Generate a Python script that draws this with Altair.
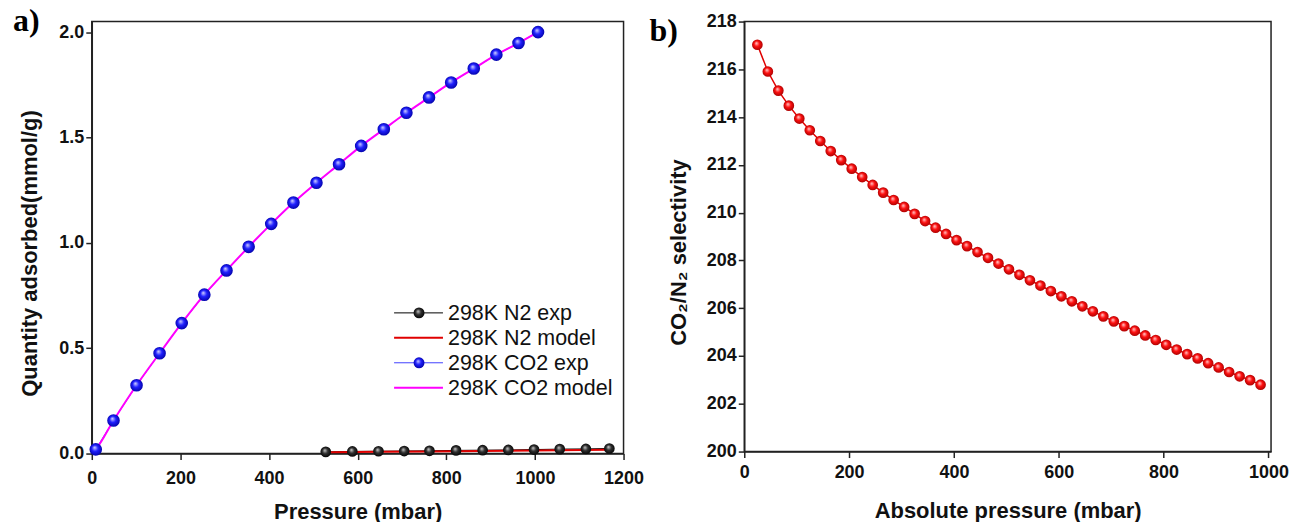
import altair as alt
import pandas as pd

# ---- panel a) data ----
co2_p = [9, 49, 101, 153, 203, 254, 304, 354, 405, 455, 507, 558, 608, 659, 710, 761, 811, 862, 913, 963, 1007]
co2_q = [0.020, 0.157, 0.324, 0.476, 0.619, 0.754, 0.869, 0.981, 1.090, 1.191, 1.285, 1.373,
         1.460, 1.539, 1.617, 1.690, 1.761, 1.827, 1.893, 1.948, 2.000]
co2m_p = [0, 9, 49, 101, 153, 203, 254, 304, 354, 405, 455, 507, 558, 608, 659, 710, 761, 811, 862, 913, 963, 1007]
co2m_q = [0.0, 0.020, 0.157, 0.324, 0.476, 0.619, 0.754, 0.869, 0.981, 1.090, 1.191, 1.285, 1.373,
          1.460, 1.539, 1.617, 1.690, 1.761, 1.827, 1.893, 1.948, 2.000]
n2_p = [528, 588, 647, 705, 762, 822, 882, 940, 998, 1056, 1115, 1168]
n2_q = [0.008, 0.010, 0.011, 0.012, 0.013, 0.015, 0.016, 0.017, 0.019, 0.021, 0.022, 0.024]
n2m_p = [540, 650, 760, 880, 1000, 1110, 1168]
n2m_q = [0.006, 0.008, 0.010, 0.012, 0.015, 0.017, 0.018]

legend_labels = ["298K N2 exp", "298K N2 model", "298K CO2 exp", "298K CO2 model"]

# ---- panel b) data ----
sel_p = [25, 45, 65, 85, 105, 125, 145, 165, 185, 205, 225, 245, 265, 285, 305, 325, 345, 365,
         385, 405, 425, 445, 465, 485, 505, 525, 545, 565, 585, 605, 625, 645, 665, 685, 705,
         725, 745, 765, 785, 805, 825, 845, 865, 885, 905, 925, 945, 965, 985]
sel_v = [217.03, 215.91, 215.11, 214.48, 213.94, 213.45, 213.00, 212.58, 212.20, 211.84,
         211.49, 211.16, 210.84, 210.53, 210.24, 209.95, 209.65, 209.37, 209.11, 208.85,
         208.60, 208.35, 208.11, 207.87, 207.63, 207.40, 207.17, 206.95, 206.72, 206.50,
         206.29, 206.08, 205.87, 205.66, 205.45, 205.25, 205.06, 204.86, 204.67, 204.47,
         204.27, 204.08, 203.90, 203.70, 203.52, 203.33, 203.15, 202.99, 202.80]

FONT = "Liberation Sans"


def sphere(light, mid, dark):
    return alt.RadialGradient(
        gradient="radial",
        stops=[alt.GradientStop(offset=0, color=light),
               alt.GradientStop(offset=0.45, color=mid),
               alt.GradientStop(offset=1, color=dark)],
        x1=0.4, y1=0.35, r1=0, x2=0.5, y2=0.5, r2=0.55)


red_g = sphere("#ffd6d6", "#ff1010", "#a00000")
blue_g = sphere("#d6d6ff", "#2020ff", "#0000a0")
black_g = sphere("#d0d0d0", "#303030", "#000000")

# ---------------- Panel a ----------------
W1, H1 = 533, 433
xs1 = alt.Scale(domain=[0, 1200], nice=False)
ys1 = alt.Scale(domain=[0, 2.05], nice=False)
xax1 = alt.Axis(values=[0, 200, 400, 600, 800, 1000, 1200], format="d", title="Pressure (mbar)",
                labelPadding=10, titleY=48)
yax1 = alt.Axis(values=[0, 0.5, 1.0, 1.5, 2.0], format=".1f", title="Quantity adsorbed(mmol/g)",
                titleX=-50, titleY=232)

df_co2 = pd.DataFrame({"p": co2_p, "q": co2_q})
df_co2m = pd.DataFrame({"p": co2m_p, "q": co2m_q})
df_n2 = pd.DataFrame({"p": n2_p, "q": n2_q})
df_n2m = pd.DataFrame({"p": n2m_p, "q": n2m_q})

X1 = alt.X("p:Q", scale=xs1, axis=xax1)
Y1 = alt.Y("q:Q", scale=ys1, axis=yax1)

n2_line = alt.Chart(df_n2).mark_line(color="black", strokeWidth=1).encode(x=X1, y=Y1)
n2_pts = alt.Chart(df_n2).mark_circle(fill=black_g, size=115, opacity=1).encode(x=X1, y=Y1)
n2_model = alt.Chart(df_n2m).mark_line(color="#e00000", strokeWidth=2).encode(x=X1, y=Y1)
co2_line = alt.Chart(df_co2).mark_line(color="#4040ff", strokeWidth=1).encode(x=X1, y=Y1)
co2_model = alt.Chart(df_co2m).mark_line(color="#ff00ff", strokeWidth=2,
                                         interpolate="monotone").encode(x=X1, y=Y1)
co2_pts = alt.Chart(df_co2).mark_circle(fill=blue_g, size=160, opacity=1).encode(x=X1, y=Y1)

# legend (inside the plot, lower right)
leg_line_colors = ["black", "#e00000", "#4040ff", "#ff00ff"]
leg_line_widths = [1, 2, 1, 2]
leg_marker = [black_g, None, blue_g, None]
leg_layers = []
for i, lab in enumerate(legend_labels):
    yy = 292 + 25 * i
    dfl = pd.DataFrame({"label": [lab]})
    leg_layers.append(
        alt.Chart(dfl).mark_rule(color=leg_line_colors[i], strokeWidth=leg_line_widths[i]).encode(
            x=alt.value(303), x2=alt.value(352), y=alt.value(yy)))
    if leg_marker[i] is not None:
        leg_layers.append(
            alt.Chart(dfl).mark_circle(fill=leg_marker[i], size=120, opacity=1).encode(
                x=alt.value(328), y=alt.value(yy)))
    leg_layers.append(
        alt.Chart(dfl).mark_text(font=FONT, fontSize=21.5, align="left", baseline="middle",
                                 color="#111").encode(
            x=alt.value(357), y=alt.value(yy + 1), text="label:N"))

tag_a = alt.Chart(pd.DataFrame({"t": ["a)"]})).mark_text(
    font="Liberation Serif", fontSize=32, fontWeight="bold", align="left",
    baseline="alphabetic", color="black").encode(x=alt.value(-79), y=alt.value(9), text="t:N")

left = alt.layer(co2_line, co2_model, co2_pts, n2_line, n2_model, n2_pts, *leg_layers, tag_a).properties(
    width=W1, height=H1)

# ---------------- Panel b ----------------
W2, H2 = 528, 431
xs2 = alt.Scale(domain=[0, 1005], nice=False)
ys2 = alt.Scale(domain=[200, 218], nice=False)
xax2 = alt.Axis(values=[0, 200, 400, 600, 800, 1000], format="d", title="Absolute pressure (mbar)",
                labelPadding=6, titleY=49)
yax2 = alt.Axis(values=[200, 202, 204, 206, 208, 210, 212, 214, 216, 218],
                title="CO\u2082/N\u2082 selectivity", titleX=-54, titleY=231)
df_sel = pd.DataFrame({"p": sel_p, "s": sel_v})
X2 = alt.X("p:Q", scale=xs2, axis=xax2)
Y2 = alt.Y("s:Q", scale=ys2, axis=yax2)
sel_line = alt.Chart(df_sel).mark_line(color="#e00000", strokeWidth=1.5).encode(x=X2, y=Y2)
sel_pts = alt.Chart(df_sel).mark_circle(fill=red_g, size=115, opacity=1).encode(x=X2, y=Y2)
tag_b = alt.Chart(pd.DataFrame({"t": ["b)"]})).mark_text(
    font="Liberation Serif", fontSize=32, fontWeight="bold", align="left",
    baseline="alphabetic", color="black").encode(x=alt.value(-95), y=alt.value(19), text="t:N")

right = alt.layer(sel_line, sel_pts, tag_b).properties(width=W2, height=H2)

chart = alt.hconcat(left, right, spacing=121, bounds="flush").properties(
    padding={"left": 12, "top": 3, "right": 0, "bottom": 0},
    background="white",
).configure_view(stroke="#222", strokeWidth=1.5).configure_axis(
    labelFont=FONT, labelFontWeight="bold", labelFontSize=18, labelColor="#111",
    titleFont=FONT, titleFontWeight="bold", titleFontSize=22, titleColor="#111",
    grid=False, domainColor="#222", domainWidth=1.5, tickColor="#222", tickWidth=1.5,
    tickSize=6, labelFlush=False, labelOverlap=False,
)

chart.save("out.html", embed_options={"renderer": "svg", "actions": False})
